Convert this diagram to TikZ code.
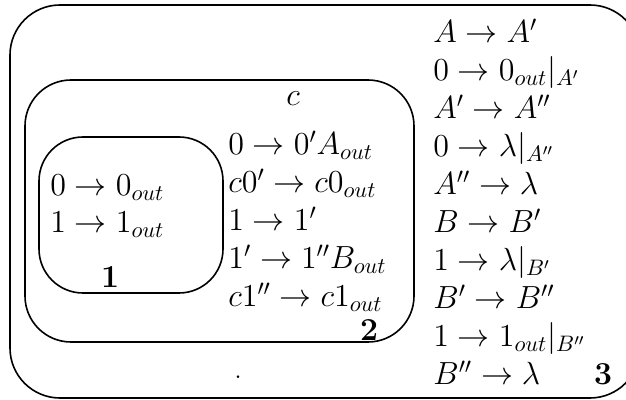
\RequirePackage{fix-cm}
\documentclass[tikz,border=0pt]{standalone}
\begin{document}
\begin{tikzpicture}[x=0.5pt,y=-0.5pt,
  boxline/.style={draw=black,line width=0.8pt},
  txt/.style={anchor=base west,inner sep=0pt,font=\fontsize{16}{19}\selectfont},
  lbl/.style={anchor=base,inner sep=0pt,font=\fontsize{16}{19}\selectfont}]
\useasboundingbox (0,0) rectangle (626,400);
\clip (0,0) rectangle (626,400);
% boxes
\draw[boxline,rounded corners=25pt] (10,5) rectangle (640,398);
\draw[boxline,rounded corners=23pt] (25,80) rectangle (414,342);
\draw[boxline,rounded corners=22pt] (39,137) rectangle (223,293);
% box 1
\node[txt] (b1a) at (50,196) {$0\to 0_{out}$};
\node[txt] (b1b) at (50,233) {$1\to 1_{out}$};
\node[lbl] (n1) at (110,288) {$\mathbf{1}$};
% box 2
\node[lbl] (c) at (293,106) {$c$};
\node[txt] (b2a) at (228,155) {$0\to 0'A_{out}$};
\node[txt] (b2b) at (228,193) {$c0'\to c0_{out}$};
\node[txt] (b2c) at (228,231) {$1\to 1'$};
\node[txt] (b2d) at (228,269) {$1'\to 1''B_{out}$};
\node[txt] (b2e) at (228,307) {$c1''\to c1_{out}$};
\node[lbl] (n2) at (369,341) {$\mathbf{2}$};
% box 3
\node[txt] (r1) at (433,43) {$A\to A'$};
\node[txt] (r2) at (433,81) {$0\to 0_{out}|_{A'}$};
\node[txt] (r3) at (433,119) {$A'\to A''$};
\node[txt] (r4) at (433,157) {$0\to \lambda|_{A''}$};
\node[txt] (r5) at (433,195) {$A''\to \lambda$};
\node[txt] (r6) at (433,233) {$B\to B'$};
\node[txt] (r7) at (433,271) {$1\to \lambda|_{B'}$};
\node[txt] (r8) at (433,309) {$B'\to B''$};
\node[txt] (r9) at (433,347) {$1\to 1_{out}|_{B''}$};
\node[txt] (r10) at (433,385) {$B''\to \lambda$};
\node[lbl] (n3) at (603,385) {$\mathbf{3}$};
% stray dot
\node[lbl] (dot) at (238,379) {.};
\end{tikzpicture}
\end{document}
